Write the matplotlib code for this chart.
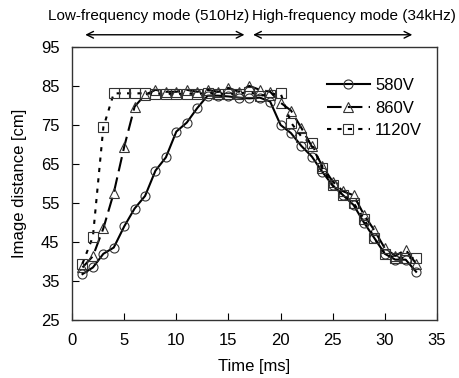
import matplotlib
matplotlib.use('agg')
import matplotlib.pyplot as plt
import numpy as np

plt.rcParams['font.family'] = ['Liberation Sans', 'DejaVu Sans']

time_ms = list(range(1, 34))
v580 = [36.8, 38.5, 42.0, 43.6, 49.0, 53.6, 56.8, 63.3, 66.7, 73.3, 75.6, 79.3,
        82.5, 82.5, 82.3, 82.0, 81.8, 82.0, 81.0, 75.0, 72.9, 69.6, 66.9, 63.0,
        59.5, 57.0, 54.5, 50.0, 46.0, 42.0, 40.5, 40.5, 37.4]
v860 = [38.5, 41.4, 48.5, 57.6, 69.4, 79.7, 82.7, 84.0, 83.5, 83.5, 84.0, 83.5,
        84.0, 83.5, 84.5, 83.5, 85.0, 84.0, 83.5, 80.7, 78.7, 74.2, 69.5, 64.5,
        60.5, 58.0, 57.0, 52.0, 48.0, 43.4, 41.5, 43.0, 39.5]
v1120 = [39.5, 46.4, 74.4, 83.1, 83.1, 83.1, 83.1, 83.0, 83.0, 83.0, 83.0, 83.0,
         83.2, 83.0, 83.0, 83.0, 83.5, 82.5, 82.8, 83.1, 75.6, 72.0, 70.3, 63.9,
         59.5, 57.0, 55.0, 51.0, 46.0, 42.0, 41.0, 41.0, 40.9]

x_ticks = [0, 5, 10, 15, 20, 25, 30, 35]
y_ticks = [25, 35, 45, 55, 65, 75, 85, 95]

fig = plt.figure(figsize=(4.59, 3.78), dpi=100)
ax = fig.add_axes([0.157, 0.153, 0.795, 0.723])

mk = dict(markerfacecolor='none', markeredgecolor='#333333', markeredgewidth=0.8, markersize=6.5)
ax.plot(time_ms, v580, '-', color='black', lw=1.5, marker='o', label='580V', **mk)
ax.plot(time_ms, v860, color='black', lw=1.5, ls=(0, (7, 3)), marker='^', label='860V', **mk)
ax.plot(time_ms, v1120, color='black', lw=1.5, ls=(0, (2, 3)), marker='s', label='1120V', **mk)

ax.set_xlim(0, 35)
ax.set_ylim(25, 95)
ax.set_xticks(x_ticks)
ax.set_yticks(y_ticks)
ax.tick_params(direction='in', length=5, labelsize=12)
ax.tick_params(axis='x', pad=9)
ax.tick_params(axis='y', pad=9)
for s in ax.spines.values():
    s.set_linewidth(1.0)
    s.set_color('#333333')

ax.set_xlabel('Time [ms]', fontsize=12, labelpad=8)
ax.set_ylabel('Image distance [cm]', fontsize=12, labelpad=10)

ax.legend(loc='upper right', bbox_to_anchor=(1.0, 0.94), frameon=False, fontsize=12,
          handlelength=2.6, handletextpad=0.3, labelspacing=0.45)

# mode annotations above the axes
arr = dict(arrowstyle='<->', color='black', lw=1.0, mutation_scale=12)
ax.annotate('', xy=(1.0, 98.1), xytext=(16.8, 98.1), arrowprops=arr, annotation_clip=False)
ax.annotate('', xy=(17.1, 98.1), xytext=(32.9, 98.1), arrowprops=arr, annotation_clip=False)
ax.text(7.3, 103.0, 'Low-frequency mode (510Hz)', ha='center', va='center', fontsize=11, clip_on=False)
ax.text(27.0, 103.0, 'High-frequency mode (34kHz)', ha='center', va='center', fontsize=11, clip_on=False)

fig.savefig('out.png', dpi=100)
